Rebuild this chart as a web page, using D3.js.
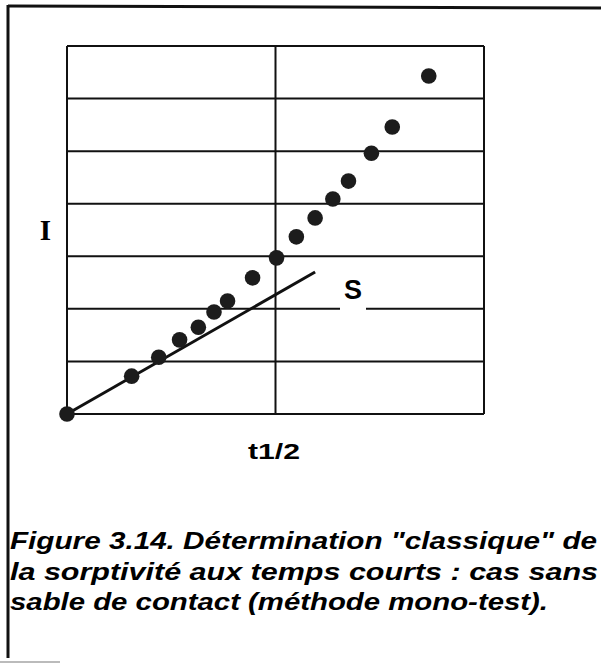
<!DOCTYPE html>
<html>
<head>
<meta charset="utf-8">
<script src="https://cdn.jsdelivr.net/npm/d3@7"></script>
<style>
  body { margin: 0; background: #fff; }
  svg { display: block; }
</style>
</head>
<body>
<div id="chart"></div>
<script>
// t^1/2 and cumulative infiltration I (arbitrary units)
const tSqrt = [0, 0.31, 0.44, 0.54, 0.63, 0.705, 0.77, 0.89, 1.005, 1.10, 1.19, 1.275, 1.35, 1.46, 1.56, 1.735];
const infil = [0, 0.72, 1.08, 1.41, 1.65, 1.94, 2.15, 2.59, 2.97, 3.37, 3.73, 4.09, 4.43, 4.96, 5.46, 6.43];
// fitted initial slope S
const slopeX = [0, 1.19];
const slopeY = [0, 2.70];
const xGrid = [0, 1, 2];
const yGrid = [0, 1, 2, 3, 4, 5, 6, 7];
const caption = [
    "Figure 3.14. Détermination \"classique\" de",
    "la sorptivité aux temps courts : cas sans",
    "sable de contact (méthode mono-test)."
];

const width = 601, height = 666;
const plot = {left: 67, top: 46, right: 484, bottom: 414};

const svg = d3.select("#chart").append("svg")
    .attr("width", width)
    .attr("height", height);

// page frame
svg.append("line")
    .attr("x1", 8).attr("y1", 6).attr("x2", 601).attr("y2", 8)
    .attr("stroke", "#111").attr("stroke-width", 3);
svg.append("line")
    .attr("x1", 8).attr("y1", 5).attr("x2", 8).attr("y2", 658)
    .attr("stroke", "#111").attr("stroke-width", 3);
svg.append("line")
    .attr("x1", 0).attr("y1", 662).attr("x2", 60).attr("y2", 662)
    .attr("stroke", "#bbb").attr("stroke-width", 2);

const x = d3.scaleLinear().domain([0, 2]).range([plot.left, plot.right]);
const y = d3.scaleLinear().domain([0, 7]).range([plot.bottom, plot.top]);

const g = svg.append("g");

g.selectAll(".hgrid")
    .data(yGrid)
    .enter()
    .append("line")
    .attr("class", "hgrid")
    .attr("x1", x(0)).attr("x2", x(2))
    .attr("y1", d => y(d)).attr("y2", d => y(d))
    .attr("stroke", "#111").attr("stroke-width", 2);

g.selectAll(".vgrid")
    .data(xGrid)
    .enter()
    .append("line")
    .attr("class", "vgrid")
    .attr("y1", y(0)).attr("y2", y(7))
    .attr("x1", d => x(d)).attr("x2", d => x(d))
    .attr("stroke", "#111").attr("stroke-width", 2);

// white box behind the S label cuts the grid line
g.append("rect")
    .attr("x", 340).attr("y", 276)
    .attr("width", 26).attr("height", 38)
    .attr("fill", "#fff");

g.append("path")
    .datum(d3.zip(slopeX, slopeY))
    .attr("d", d3.line().x(d => x(d[0])).y(d => y(d[1])))
    .attr("stroke", "#111")
    .attr("stroke-width", 3)
    .attr("fill", "none");

g.selectAll(".pt")
    .data(d3.zip(tSqrt, infil))
    .enter()
    .append("circle")
    .attr("class", "pt")
    .attr("cx", d => x(d[0]))
    .attr("cy", d => y(d[1]))
    .attr("r", 7.8)
    .attr("fill", "#1c1c1c");

svg.append("text")
    .attr("x", 353).attr("y", 299)
    .attr("text-anchor", "middle")
    .attr("font-family", "Liberation Sans, Arial, sans-serif")
    .attr("font-weight", "bold")
    .attr("font-size", 27)
    .text("S");

svg.append("text")
    .attr("x", 45.5).attr("y", 240)
    .attr("text-anchor", "middle")
    .attr("font-family", "Liberation Serif, Times New Roman, serif")
    .attr("font-weight", "bold")
    .attr("font-size", 29)
    .text("I");

svg.append("text")
    .attr("x", 248).attr("y", 459)
    .attr("font-family", "Liberation Sans, Arial, sans-serif")
    .attr("font-weight", "bold")
    .attr("font-size", 22)
    .attr("textLength", 52)
    .attr("lengthAdjust", "spacingAndGlyphs")
    .text("t1/2");

const capWidths = [587, 588, 538];
svg.selectAll(".cap")
    .data(caption)
    .enter()
    .append("text")
    .attr("class", "cap")
    .attr("x", 10)
    .attr("y", (d, i) => 549 + i * 30.5)
    .attr("font-family", "Liberation Sans, Arial, sans-serif")
    .attr("font-weight", "bold")
    .attr("font-style", "italic")
    .attr("font-size", 24)
    .attr("textLength", (d, i) => capWidths[i])
    .attr("lengthAdjust", "spacingAndGlyphs")
    .text(d => d);
</script>
</body>
</html>
